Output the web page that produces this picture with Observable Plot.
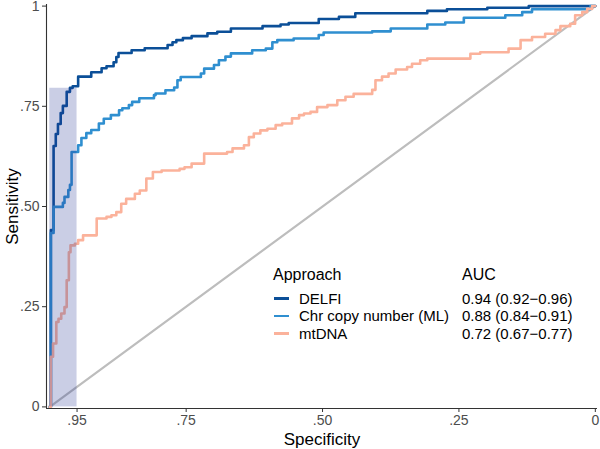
<!DOCTYPE html>
<html>
<head>
<meta charset="utf-8">
<script src="https://cdn.jsdelivr.net/npm/d3@7"></script>
<script src="https://cdn.jsdelivr.net/npm/@observablehq/plot@0.6"></script>
<style>
  html, body { margin: 0; padding: 0; background: #fff; }
  #wrap { position: relative; width: 600px; height: 449px; font-family: "Liberation Sans", Arial, sans-serif; }
  #legend { position: absolute; left: 0; top: 0; color: #000; font-size: 15px; }
  #legend div { position: absolute; white-space: nowrap; line-height: 1; }
</style>
</head>
<body>
<div id="wrap"><div id="chart"></div><div id="legend"></div></div>
<script>
// ---- data ----
const approaches = ["DELFI", "Chr copy number (ML)", "mtDNA"];
const aucLabels = ["0.94 (0.92\u22120.96)", "0.88 (0.84\u22120.91)", "0.72 (0.67\u22120.77)"];
const approachColors = ["#0b4f98", "#2f8fd0", "#fbb29b"];

const specTicks = [0.95, 0.75, 0.5, 0.25, 0];
const specTickLabels = [".95", ".75", ".50", ".25", "0"];
const sensTicks = [0, 0.25, 0.5, 0.75, 1];
const sensTickLabels = ["0", ".25", ".50", ".75", "1"];

// [specificity, sensitivity]
const delfiRoc = [[1,0],[.998,.441],[.993,.651],[.989,.681],[.985,.706],[.980,.733],[.976,.751],[.969,.786],[.963,.796],[.958,.800],[.948,.824],[.924,.835],[.905,.845],[.896,.850],[.883,.860],[.878,.873],[.874,.883],[.850,.890],[.826,.895],[.784,.903],[.775,.910],[.768,.915],[.756,.920],[.740,.925],[.711,.932],[.693,.936],[.668,.944],[.610,.950],[.577,.954],[.562,.958],[.507,.968],[.470,.973],[.440,.982],[.308,.988],[.272,.992],[.198,.996],[.122,1],[0,1]];
const chrRoc = [[1,0],[.998,.434],[.993,.499],[.976,.509],[.973,.524],[.966,.541],[.963,.554],[.960,.636],[.948,.653],[.942,.671],[.933,.683],[.924,.691],[.910,.707],[.901,.719],[.888,.728],[.873,.740],[.867,.745],[.855,.753],[.849,.761],[.836,.770],[.809,.778],[.806,.782],[.788,.790],[.772,.797],[.766,.815],[.760,.823],[.723,.832],[.717,.844],[.699,.853],[.690,.865],[.678,.874],[.668,.882],[.629,.890],[.604,.894],[.592,.910],[.583,.915],[.553,.919],[.507,.928],[.498,.934],[.409,.937],[.375,.944],[.308,.954],[.275,.959],[.241,.971],[.165,.977],[.134,.985],[.116,.992],[.009,1],[0,1]];
const mtdnaRoc = [[1,0],[.998,.125],[.994,.158],[.988,.212],[.984,.220],[.979,.233],[.973,.249],[.969,.316],[.965,.386],[.962,.403],[.954,.407],[.948,.416],[.939,.428],[.914,.470],[.896,.474],[.887,.478],[.878,.486],[.869,.507],[.860,.519],[.844,.532],[.835,.540],[.823,.570],[.811,.586],[.795,.590],[.762,.594],[.753,.598],[.740,.607],[.717,.632],[.675,.636],[.665,.645],[.644,.653],[.635,.673],[.626,.682],[.614,.690],[.601,.694],[.586,.703],[.574,.707],[.556,.720],[.543,.728],[.534,.732],[.522,.736],[.510,.748],[.491,.753],[.473,.765],[.458,.774],[.443,.781],[.409,.791],[.403,.815],[.391,.824],[.379,.832],[.366,.842],[.345,.848],[.336,.856],[.321,.865],[.308,.869],[.229,.881],[.211,.885],[.159,.894],[.137,.915],[.116,.923],[.092,.931],[.073,.940],[.064,.950],[.046,.956],[.037,.977],[.024,.985],[.015,.993],[.006,1],[0,1]];

const chanceLine = [[1,0],[0,1]];
const shadeSpec = [1, 0.95];
const shadeSens = [0, 0.795];

const xDomain = [1.006, -0.004];
const yDomain = [-0.004, 1.004];

// ---- build ----
const rocSeries = [delfiRoc, chrRoc, mtdnaRoc];
const rows = [];
rocSeries.forEach((s, i) => s.forEach(([spec, sens]) => rows.push({approach: approaches[i], spec, sens})));
const diag = chanceLine.map(([spec, sens]) => ({spec, sens}));
const shade = [{x1: shadeSpec[0], x2: shadeSpec[1], y1: shadeSens[0], y2: shadeSens[1]}];

const chart = Plot.plot({
  width: 600,
  height: 449,
  marginLeft: 46,
  marginRight: 3,
  marginTop: 4,
  marginBottom: 41,
  style: {fontFamily: "'Liberation Sans', Arial, sans-serif", fontSize: "14px", background: "#fff", overflow: "visible"},
  x: {domain: xDomain},
  y: {domain: yDomain},
  color: {domain: approaches, range: approachColors},
  marks: [
    Plot.line(diag, {x: "spec", y: "sens", stroke: "#bdbdbd", strokeWidth: 2.2}),
    Plot.line(rows, {x: "spec", y: "sens", z: "approach", stroke: "approach", curve: "step-after", strokeWidth: 2.6}),
    Plot.rect(shade, {x1: "x1", x2: "x2", y1: "y1", y2: "y2", fill: "#233393", fillOpacity: 0.24}),
    Plot.ruleX([xDomain[0]], {stroke: "#333", strokeWidth: 1.1}),
    Plot.ruleY([yDomain[0]], {stroke: "#333", strokeWidth: 1.1}),
    Plot.axisX({ticks: specTicks, tickFormat: d => specTickLabels[specTicks.indexOf(d)], tickSize: 4, tickPadding: 3, stroke: "#333", fill: "#4d4d4d", fontSize: 14,
      label: "Specificity", labelAnchor: "center", labelOffset: 36, labelArrow: "none"}),
    Plot.axisY({ticks: sensTicks, tickFormat: d => sensTickLabels[sensTicks.indexOf(d)], tickSize: 4, tickPadding: 3, stroke: "#333", fill: "#4d4d4d", fontSize: 14,
      label: "Sensitivity", labelAnchor: "center", labelOffset: 41, labelArrow: "none"})
  ]
});
document.getElementById("chart").appendChild(chart);

// axis titles styling
chart.querySelectorAll('g[aria-label="x-axis label"] text, g[aria-label="y-axis label"] text').forEach(t => {
  t.setAttribute("font-size", "17px");
  t.style.fontSize = "17px";
  t.setAttribute("fill", "#000");
});

// ---- legend ----
const legend = document.getElementById("legend");
function addDiv(html, left, top, extra) {
  const d = document.createElement("div");
  d.innerHTML = html;
  d.style.left = left + "px";
  d.style.top = top + "px";
  if (extra) Object.assign(d.style, extra);
  legend.appendChild(d);
  return d;
}
addDiv("Approach", 273, 267, {fontSize: "16px"});
addDiv("AUC", 462, 267, {fontSize: "16px"});
approaches.forEach((a, i) => {
  const cy = 298.5 + i * 17.5;
  addDiv("", 274, cy - 1.3, {width: "15px", height: "2.6px", background: approachColors[i]});
  addDiv(a, 299, cy - 8);
  addDiv(aucLabels[i], 462, cy - 8);
});
</script>
</body>
</html>
